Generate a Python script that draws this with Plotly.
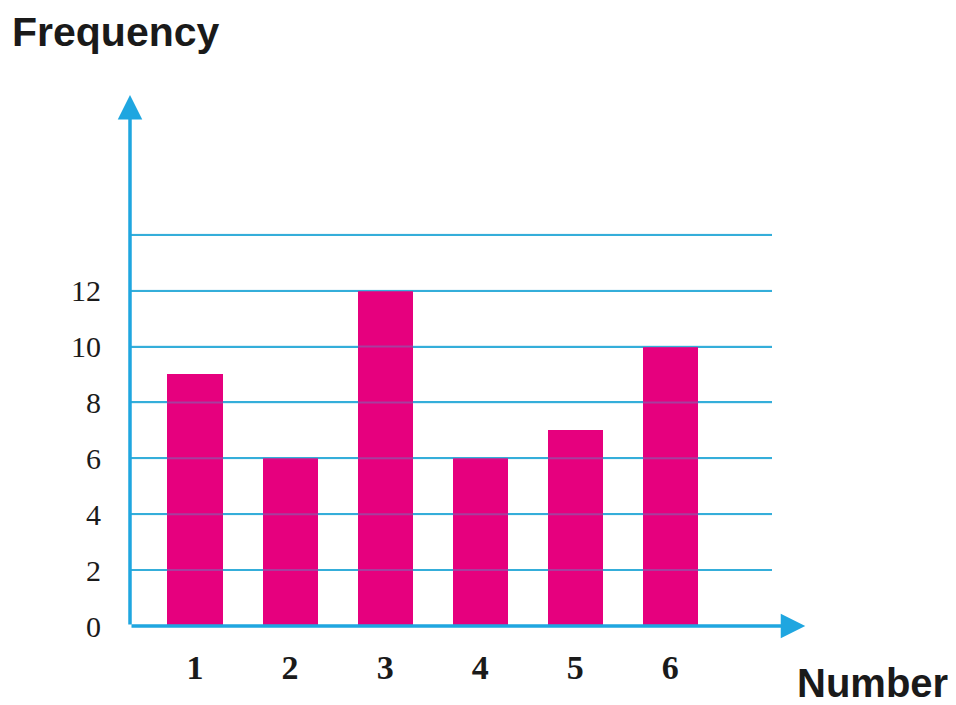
import plotly.graph_objects as go

numbers = [1, 2, 3, 4, 5, 6]
frequency = [9, 6, 12, 6, 7, 10]
y_ticks = [0, 2, 4, 6, 8, 10, 12, 14]
y_tick_text = ["0", "2", "4", "6", "8", "10", "12", ""]

BAR = "#E6007E"
AXIS = "#1FA6E0"
GRID = "#35AEDA"

x_min, x_max, x_tip = 0.316, 7.07, 7.42
y_max = 19

W, H = 948, 697  # page adds an 8px body margin

fig = go.Figure()
fig.add_trace(go.Bar(x=numbers, y=frequency, width=0.58,
                     marker=dict(color=BAR, line=dict(width=0))))

# faint grid over the bars, as in the printed chart
shapes = [dict(type="line", xref="paper", yref="y", x0=0, x1=1, y0=t, y1=t,
               line=dict(color=GRID, width=2), opacity=0.35, layer="above")
          for t in y_ticks[1:]]

fig.update_layout(
    width=W, height=H,
    margin=dict(l=122, r=W - 764, t=87, b=H - 618),
    plot_bgcolor="white", paper_bgcolor="white",
    showlegend=False,
    bargap=0,
    title=dict(text="<b>Frequency</b>", xref="container", yref="container",
               x=4 / W, xanchor="left", y=1 - 24 / H, yanchor="middle",
               font=dict(family="Liberation Sans", size=41, color="#1a1a1a")),
    xaxis=dict(range=[x_min, x_max], tickvals=numbers,
               ticktext=[f"<b>{n}</b>" for n in numbers],
               showgrid=False, zeroline=False, showline=False, ticks="",
               ticklabelstandoff=18,
               tickfont=dict(family="Liberation Serif", size=34, color="#1a1a1a")),
    yaxis=dict(range=[0, y_max], tickvals=y_ticks, ticktext=y_tick_text,
               showgrid=True, gridcolor=GRID, gridwidth=2.2,
               zeroline=False, showline=False, ticks="",
               ticklabelstandoff=28,
               tickfont=dict(family="Liberation Serif", size=30, color="#1a1a1a")),
    shapes=shapes,
    annotations=[
        dict(x=x_tip, y=0, ax=x_min, ay=0, xref="x", yref="y", axref="x", ayref="y",
             text="", showarrow=True, arrowhead=2, arrowsize=1.4, arrowwidth=3.5,
             arrowcolor=AXIS),
        dict(x=x_min, y=y_max, ax=x_min, ay=0, xref="x", yref="y", axref="x", ayref="y",
             text="", showarrow=True, arrowhead=2, arrowsize=1.4, arrowwidth=3.5,
             arrowcolor=AXIS),
        dict(text="<b>Number</b>", xref="paper", yref="paper",
             x=(942 - 122) / 642, y=(618 - 675) / 531, xanchor="right", yanchor="middle",
             showarrow=False,
             font=dict(family="Liberation Sans", size=40, color="#1a1a1a")),
    ],
)

fig.write_html("out.html")
